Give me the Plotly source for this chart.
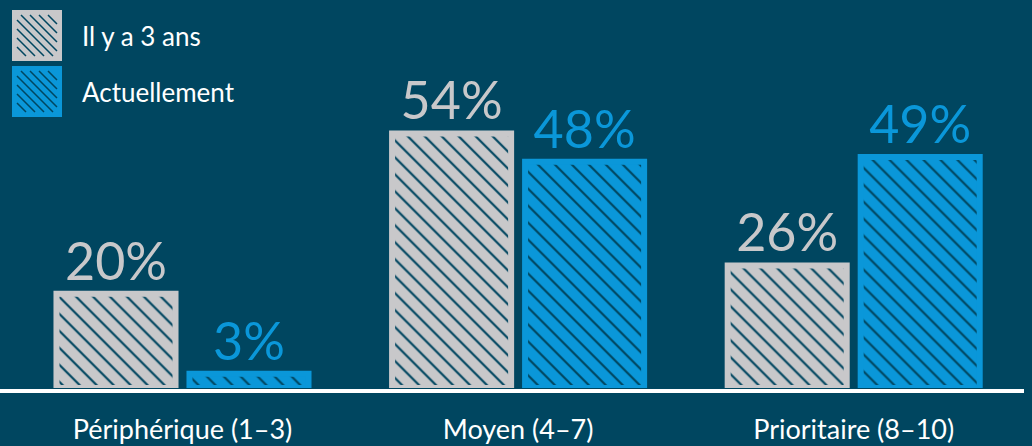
import plotly.graph_objects as go

# Data
categories = ["Périphérique (1–3)", "Moyen (4–7)", "Prioritaire (8–10)"]
series_names = ["Il y a 3 ans", "Actuellement"]
values_before = [20, 54, 26]
values_now = [3, 48, 49]

BG = "#004660"
GRAY = "#C8C8CA"
BLUE = "#0A97D9"
FONT = "Lato"

W, H = 1032, 446
PLOT_BOTTOM = 388  # pixel row of the baseline


def bar_trace(name, vals, color):
    return go.Bar(
        name=name,
        x=list(range(len(categories))),
        y=vals,
        text=[f"{v}%" for v in vals],
        textposition="outside",
        textfont=dict(family=FONT, size=52, color=color),
        cliponaxis=False,
        marker=dict(
            color=color,
            line=dict(color=color, width=6),
            pattern=dict(shape="\\", fgcolor=BG, bgcolor=color,
                         size=12, solidity=0.18, fillmode="replace"),
        ),
        showlegend=False,
    )


fig = go.Figure([
    bar_trace(series_names[0], values_before, GRAY),
    bar_trace(series_names[1], values_now, BLUE),
])


def px_x(px):
    return px / W


def px_y(py):
    return (PLOT_BOTTOM - py) / PLOT_BOTTOM


def hatch_path(x0, y0, x1, y1, step=9):
    """Backslash hatch lines clipped to a box given in pixels."""
    parts = []
    c = -(y1 - y0)
    while c < (x1 - x0):
        sx = max(x0, x0 + c)
        sy = y0 + (sx - x0 - c)
        ex = min(x1, x0 + c + (y1 - y0))
        ey = y0 + (ex - x0 - c)
        if ex > sx:
            parts.append(f"M{px_x(sx):.5f},{px_y(sy):.5f} L{px_x(ex):.5f},{px_y(ey):.5f}")
        c += step
    return " ".join(parts)


# Legend swatches drawn as shapes with annotations
legend_boxes = [(12, 10, 62, 61), (12, 66, 62, 117)]
shapes = []
annotations = []
for (x0, y0, x1, y1), name, color in zip(legend_boxes, series_names, [GRAY, BLUE]):
    shapes.append(dict(type="rect", xref="paper", yref="paper",
                       x0=px_x(x0), x1=px_x(x1), y0=px_y(y1), y1=px_y(y0),
                       fillcolor=color, line=dict(width=0), layer="above"))
    shapes.append(dict(type="path", xref="paper", yref="paper",
                       path=hatch_path(x0 + 5, y0 + 5, x1 - 5, y1 - 5),
                       line=dict(color=BG, width=1.5), layer="above"))
    annotations.append(dict(text=name, xref="paper", yref="paper",
                            x=px_x(80), y=px_y((y0 + y1) / 2),
                            xanchor="left", yanchor="middle", showarrow=False,
                            font=dict(family=FONT, size=26, color="white")))

# Baseline
shapes.append(dict(type="line", xref="paper", yref="paper",
                   x0=0, x1=px_x(1024), y0=px_y(391), y1=px_y(391),
                   line=dict(color="white", width=4), layer="above"))

fig.update_layout(
    width=W, height=H,
    paper_bgcolor=BG, plot_bgcolor=BG,
    margin=dict(l=0, r=0, t=0, b=H - PLOT_BOTTOM),
    barmode="group",
    bargap=0.2074,
    bargroupgap=0.105,
    shapes=shapes,
    annotations=annotations,
    xaxis=dict(
        range=[-0.5438, 2.5313],
        tickvals=list(range(len(categories))),
        ticktext=categories,
        tickfont=dict(family=FONT, size=27, color="white"),
        showgrid=False, zeroline=False, showline=False, ticks="",
        ticklabelstandoff=23,
    ),
    yaxis=dict(range=[0, 82.3], visible=False, showgrid=False, zeroline=False),
)

fig.write_html("out.html")
